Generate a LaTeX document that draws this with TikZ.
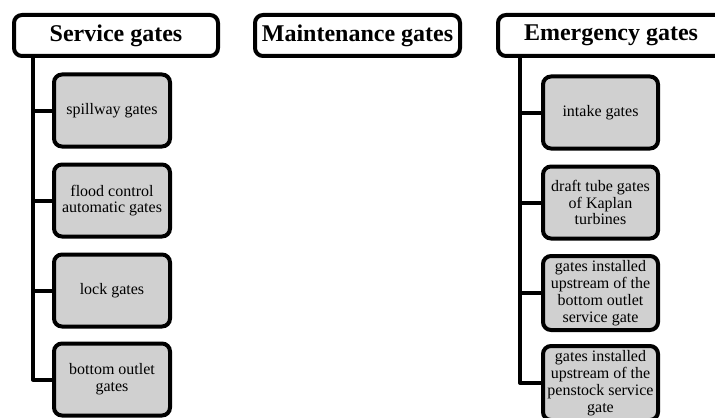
\documentclass[tikz,border=0pt]{standalone}
\usepackage{fontspec}
\setmainfont{Liberation Serif}
\definecolor{boxgray}{RGB}{208,208,208}
\tikzset{
  head/.style={draw, line width=2pt, rounded corners=4pt, fill=white,
    inner sep=0pt, font=\fontsize{12}{14}\selectfont\bfseries,
    minimum height=20.5pt},
  item/.style={draw, line width=2pt, rounded corners=4pt, fill=boxgray,
    inner sep=0pt, align=center, font=\fontsize{8}{8.4}\selectfont,
    minimum height=36pt},
  conn/.style={line width=2pt, line join=round}
}
\begin{document}
\begin{tikzpicture}[x=0.5pt, y=-0.5pt]
                  \clip (0,0) rectangle (715,417);
                  \node[head, minimum width=102pt] (shead) at (116,35.5) {Service gates};
                  \node[head, minimum width=102.5pt] (mhead) at (357.5,35.5) {Maintenance gates};
                  \node[head, minimum width=113pt] (ehead) at (611,35.5) {Emergency gates};
                  \node[item, minimum width=58pt] (s1) at (112,110.5) {spillway gates};
                  \node[item, minimum width=58pt] (s2) at (112,200.5) {flood control\\automatic gates};
                  \node[item, minimum width=58pt] (s3) at (112,290.5) {lock gates};
                  \node[item, minimum width=58pt] (s4) at (112,379.5) {bottom outlet\\gates};
                  \node[item, minimum width=57.5pt] (e1) at (600.5,112.5) {intake gates};
                  \node[item, minimum width=57.5pt] (e2) at (600.5,202.5) {draft tube gates\\of Kaplan\\turbines};
                  \node[item, minimum width=57.5pt, minimum height=37pt] (e3) at (600.5,293) {gates installed\\upstream of the\\bottom outlet\\service gate};
                  \node[item, minimum width=57.5pt, minimum height=37pt] (e4) at (600.5,383) {gates installed\\upstream of the\\penstock service\\gate};
                  \coordinate (strunk) at (33,56);
                  \coordinate (etrunk) at (520,56);
                  \draw[conn] (strunk) |- (s4.west);
                  \foreach \n in {s1,s2,s3}
                    \draw[conn] (strunk) |- (\n.west);
                  \draw[conn] (etrunk) |- (e4.west);
                  \foreach \n in {e1,e2,e3}
                    \draw[conn] (etrunk) |- (\n.west);
                \end{tikzpicture}
\end{document}
